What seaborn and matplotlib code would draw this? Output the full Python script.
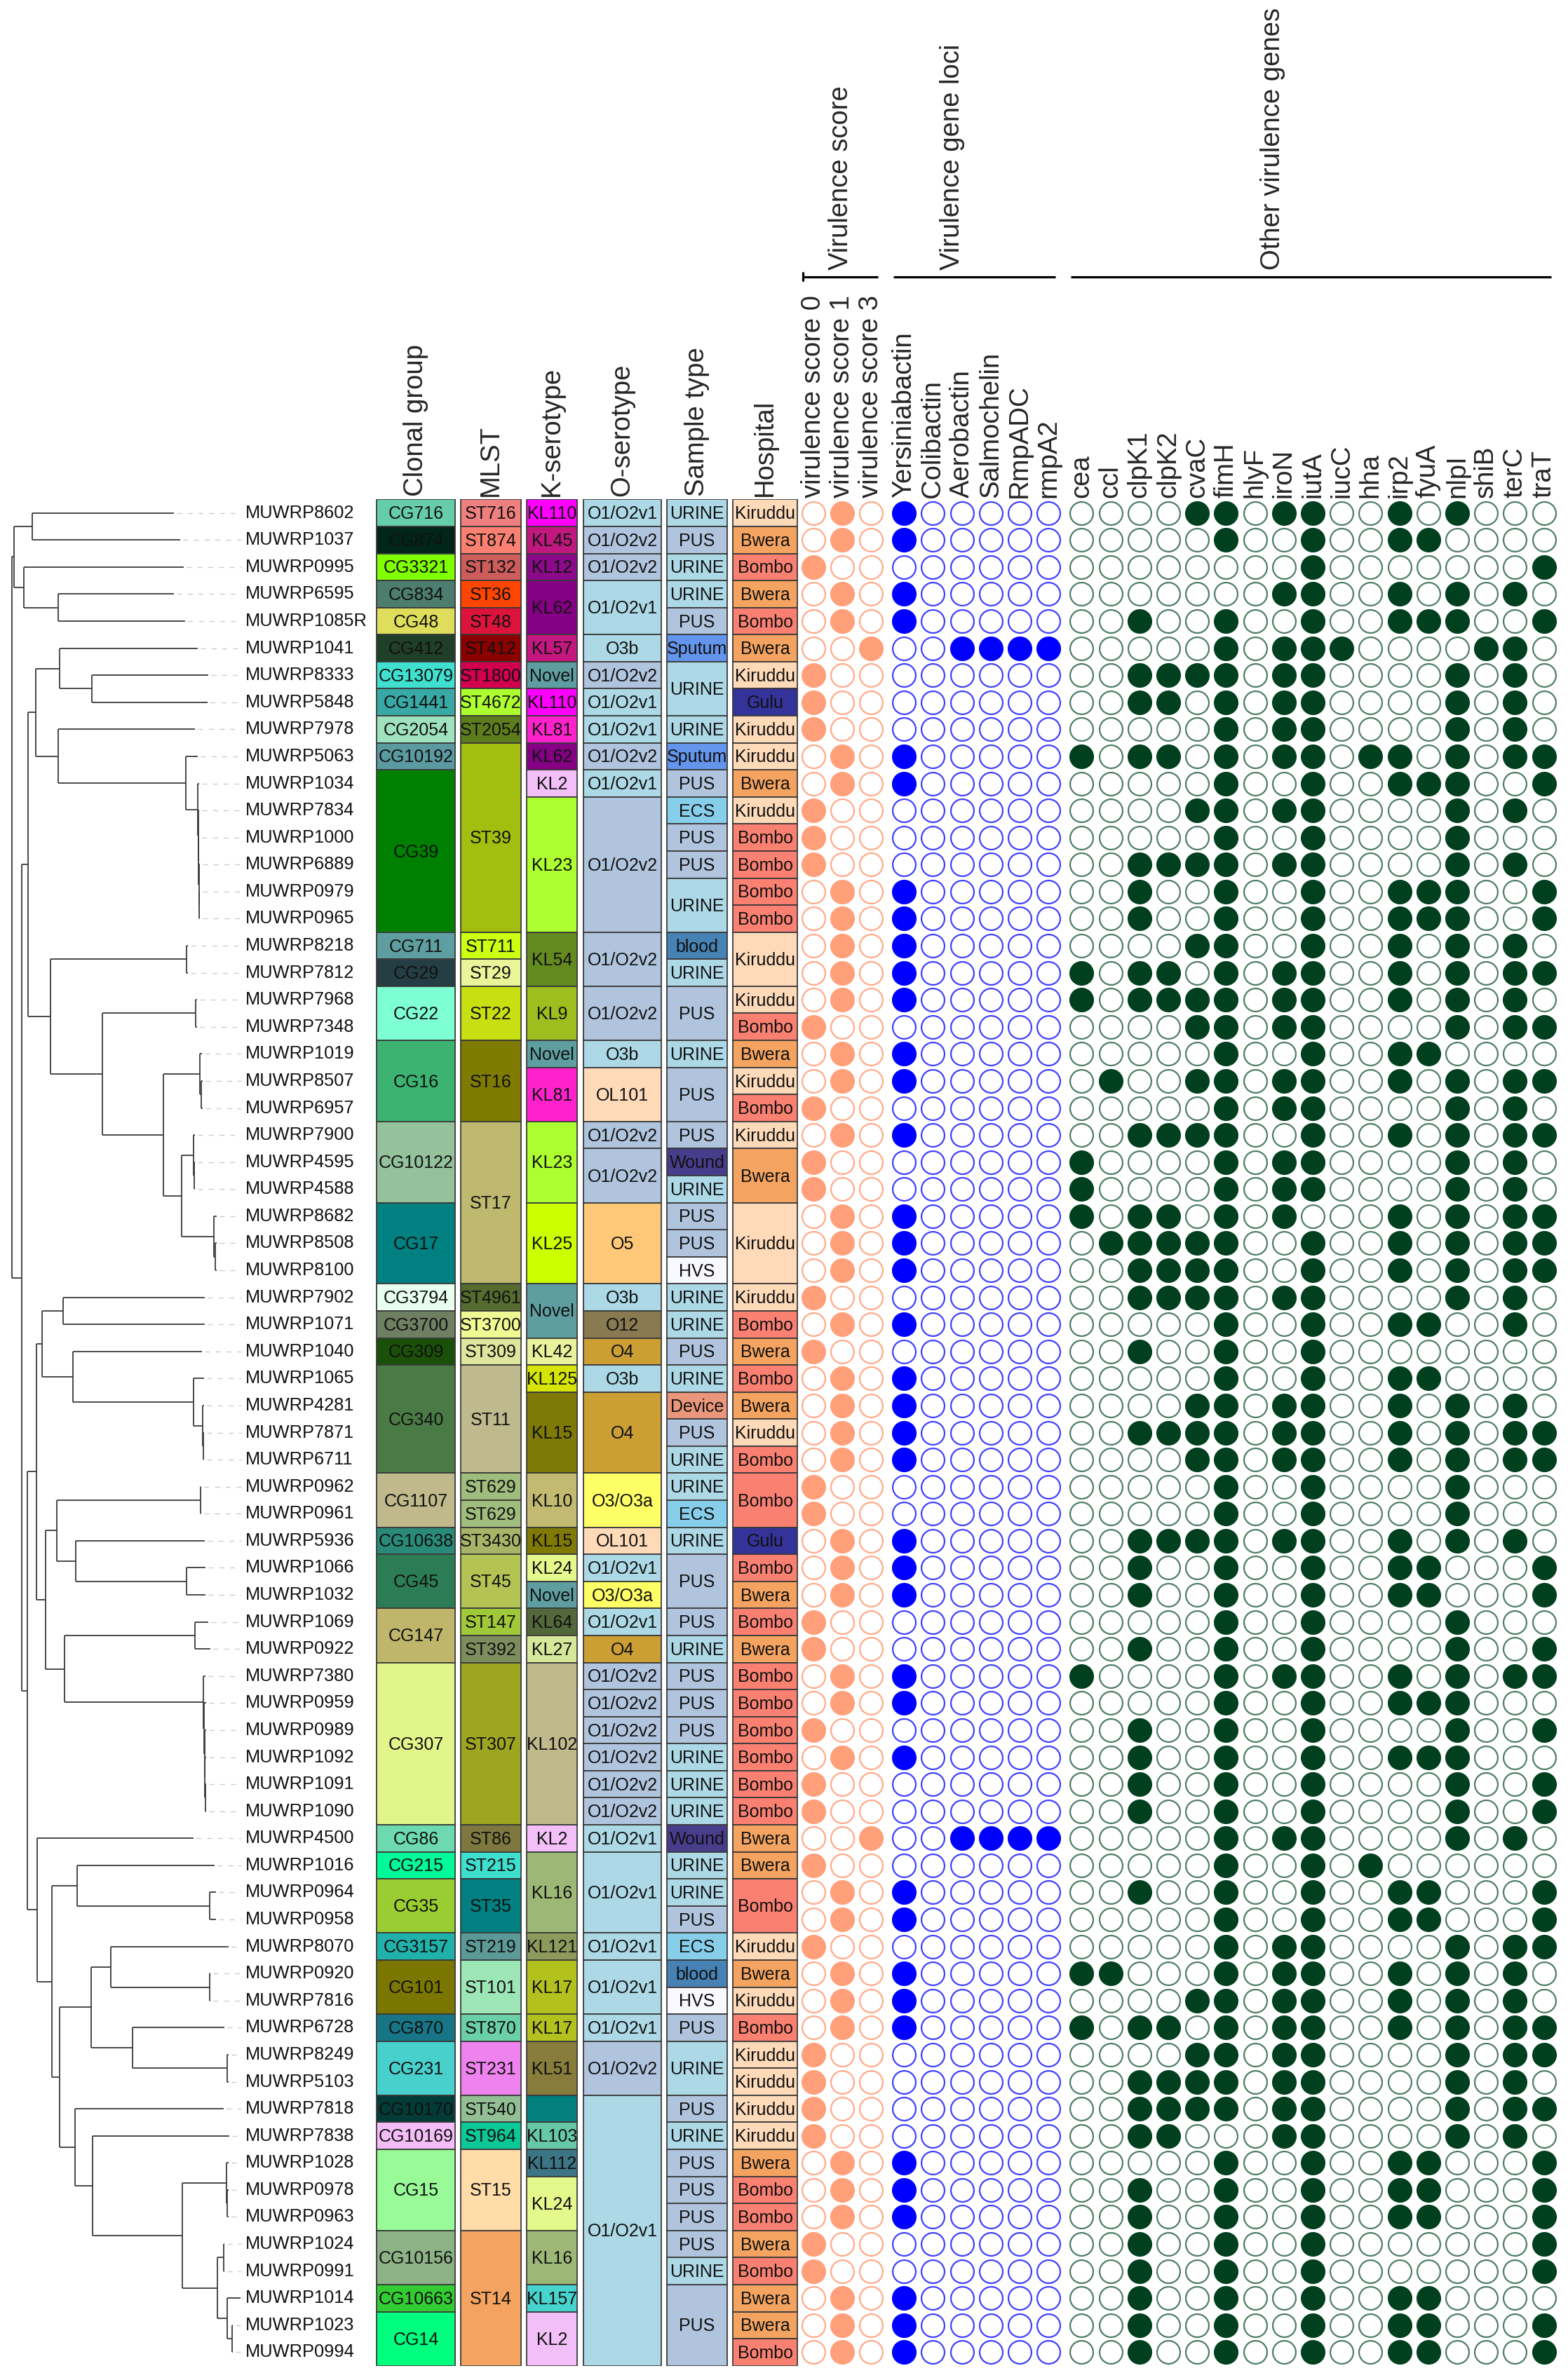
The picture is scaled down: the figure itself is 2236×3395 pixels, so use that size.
import numpy as np
import pandas as pd
import matplotlib.pyplot as plt
import seaborn as sns

# ---------------------------------------------------------------
# data: isolates top -> bottom (tree order)
# ---------------------------------------------------------------
isolates = ['MUWRP8602', 'MUWRP1037', 'MUWRP0995', 'MUWRP6595', 'MUWRP1085R', 'MUWRP1041',
            'MUWRP8333', 'MUWRP5848', 'MUWRP7978', 'MUWRP5063', 'MUWRP1034', 'MUWRP7834',
            'MUWRP1000', 'MUWRP6889', 'MUWRP0979', 'MUWRP0965', 'MUWRP8218', 'MUWRP7812',
            'MUWRP7968', 'MUWRP7348', 'MUWRP1019', 'MUWRP8507', 'MUWRP6957', 'MUWRP7900',
            'MUWRP4595', 'MUWRP4588', 'MUWRP8682', 'MUWRP8508', 'MUWRP8100', 'MUWRP7902',
            'MUWRP1071', 'MUWRP1040', 'MUWRP1065', 'MUWRP4281', 'MUWRP7871', 'MUWRP6711',
            'MUWRP0962', 'MUWRP0961', 'MUWRP5936', 'MUWRP1066', 'MUWRP1032', 'MUWRP1069',
            'MUWRP0922', 'MUWRP7380', 'MUWRP0959', 'MUWRP0989', 'MUWRP1092', 'MUWRP1091',
            'MUWRP1090', 'MUWRP4500', 'MUWRP1016', 'MUWRP0964', 'MUWRP0958', 'MUWRP8070',
            'MUWRP0920', 'MUWRP7816', 'MUWRP6728', 'MUWRP8249', 'MUWRP5103', 'MUWRP7818',
            'MUWRP7838', 'MUWRP1028', 'MUWRP0978', 'MUWRP0963', 'MUWRP1024', 'MUWRP0991',
            'MUWRP1014', 'MUWRP1023', 'MUWRP0994']

# phylogeny (newick, branch lengths in tree units)
tree_newick = (
    "(((MUWRP8602:202.2,MUWRP1037:210.8):25.8,(MUWRP0995:227.3,(MUWRP6595:164.7,MUWRP1085R:180.2):48.9):14.4):3,"
    "((((MUWRP1041:197,(MUWRP8333:166,MUWRP5848:165):46):34,(MUWRP7978:194.7,(MUWRP5063:17.5,(MUWRP1034:1.8,"
    "(MUWRP7834:1.5,(MUWRP1000:1,(MUWRP6889:1,(MUWRP0979:1,MUWRP0965:1):0.5):0.5):0.5):0.8):17.2):181.2):32.3):11.4,"
    "((MUWRP8218:2,MUWRP7812:2):193.7,((MUWRP7968:2,MUWRP7348:2):132.6,((MUWRP1019:3.5,(MUWRP8507:1.6,MUWRP6957:1.6):2.5):52,"
    "((MUWRP7900:2.1,(MUWRP4595:1,MUWRP4588:1):1.1):16.2,(MUWRP8682:4,(MUWRP8508:2,MUWRP8100:2):2):45.7):26.8):86.1):74.1):32.7):8.6,"
    "((((MUWRP7902:202.5,MUWRP1071:202.5):29.2,(MUWRP1040:183.6,(MUWRP1065:15.5,(MUWRP4281:2,(MUWRP7871:1,MUWRP6711:1):1):13.5):171.5):43.7):8.6,"
    "(((MUWRP0962:1,MUWRP0961:1):205,(MUWRP5936:184.2,(MUWRP1066:26.7,MUWRP1032:26.7):158.2):26.8):15.6,"
    "((MUWRP1069:18.7,MUWRP0922:21.3):186.3,(MUWRP7380:2.7,(MUWRP0959:2.5,(MUWRP0989:1.8,(MUWRP1092:1.7,"
    "(MUWRP1091:1,MUWRP1090:1):0.7):0.6):0.7):0.7):198.3):26.6):13.7):12.8,"
    "(MUWRP4500:222.1,((MUWRP1016:196.3,(MUWRP0964:8.5,MUWRP0958:8.5):189.5):35.5,(((MUWRP8070:167.8,"
    "(MUWRP0920:0.6,MUWRP7816:0.6):141.3):28.2,(MUWRP6728:131.3,(MUWRP8249:1.1,MUWRP5103:1.1):135.7):59.2):44.1,"
    "(MUWRP7818:211.8,(MUWRP7838:195,((MUWRP1028:2.8,(MUWRP0978:1.1,MUWRP0963:1.1):1.7):62.7,"
    "((MUWRP1024:1,MUWRP0991:1):8.6,(MUWRP1014:19,(MUWRP1023:0.7,MUWRP0994:0.7):7.6):13.7):50):128):25.2):21.4):11.4):20.6):14.5):7.9):14);"
)

# metadata columns as (label, number of rows the cell spans)
clonal_group = [('CG716', 1), ('CG874', 1), ('CG3321', 1), ('CG834', 1), ('CG48', 1), ('CG412', 1),
                ('CG13079', 1), ('CG1441', 1), ('CG2054', 1), ('CG10192', 1), ('CG39', 6), ('CG711', 1),
                ('CG29', 1), ('CG22', 2), ('CG16', 3), ('CG10122', 3), ('CG17', 3), ('CG3794', 1),
                ('CG3700', 1), ('CG309', 1), ('CG340', 4), ('CG1107', 2), ('CG10638', 1), ('CG45', 2),
                ('CG147', 2), ('CG307', 6), ('CG86', 1), ('CG215', 1), ('CG35', 2), ('CG3157', 1),
                ('CG101', 2), ('CG870', 1), ('CG231', 2), ('CG10170', 1), ('CG10169', 1), ('CG15', 3),
                ('CG10156', 2), ('CG10663', 1), ('CG14', 2)]
mlst = [('ST716', 1), ('ST874', 1), ('ST132', 1), ('ST36', 1), ('ST48', 1), ('ST412', 1), ('ST1800', 1),
        ('ST4672', 1), ('ST2054', 1), ('ST39', 7), ('ST711', 1), ('ST29', 1), ('ST22', 2), ('ST16', 3),
        ('ST17', 6), ('ST4961', 1), ('ST3700', 1), ('ST309', 1), ('ST11', 4), ('ST629', 1), ('ST629', 1),
        ('ST3430', 1), ('ST45', 2), ('ST147', 1), ('ST392', 1), ('ST307', 6), ('ST86', 1), ('ST215', 1),
        ('ST35', 2), ('ST219', 1), ('ST101', 2), ('ST870', 1), ('ST231', 2), ('ST540', 1), ('ST964', 1),
        ('ST15', 3), ('ST14', 5)]
k_type = [('KL110', 1), ('KL45', 1), ('KL12', 1), ('KL62', 2), ('KL57', 1), ('Novel', 1), ('KL110', 1),
          ('KL81', 1), ('KL62', 1), ('KL2', 1), ('KL23', 5), ('KL54', 2), ('KL9', 2), ('Novel', 1),
          ('KL81', 2), ('KL23', 3), ('KL25', 3), ('Novel', 2), ('KL42', 1), ('KL125', 1), ('KL15', 3),
          ('KL10', 2), ('KL15', 1), ('KL24', 1), ('Novel', 1), ('KL64', 1), ('KL27', 1), ('KL102', 6),
          ('KL2', 1), ('KL16', 3), ('KL121', 1), ('KL17', 2), ('KL17', 1), ('KL51', 2), ('', 1),
          ('KL103', 1), ('KL112', 1), ('KL24', 2), ('KL16', 2), ('KL157', 1), ('KL2', 2)]
o_type = ([('O1/O2v1', 1), ('O1/O2v2', 1), ('O1/O2v2', 1), ('O1/O2v1', 2), ('O3b', 1), ('O1/O2v2', 1),
           ('O1/O2v1', 1), ('O1/O2v1', 1), ('O1/O2v2', 1), ('O1/O2v1', 1), ('O1/O2v2', 5), ('O1/O2v2', 2),
           ('O1/O2v2', 2), ('O3b', 1), ('OL101', 2), ('O1/O2v2', 1), ('O1/O2v2', 2), ('O5', 3), ('O3b', 1),
           ('O12', 1), ('O4', 1), ('O3b', 1), ('O4', 3), ('O3/O3a', 2), ('OL101', 1), ('O1/O2v1', 1),
           ('O3/O3a', 1), ('O1/O2v1', 1), ('O4', 1)]
          + [('O1/O2v2', 1)] * 6
          + [('O1/O2v1', 1), ('O1/O2v1', 3), ('O1/O2v1', 1), ('O1/O2v1', 2), ('O1/O2v1', 1),
             ('O1/O2v2', 2), ('O1/O2v1', 10)])
sample_type = [('URINE', 1), ('PUS', 1), ('URINE', 1), ('URINE', 1), ('PUS', 1), ('Sputum', 1), ('URINE', 2),
               ('URINE', 1), ('Sputum', 1), ('PUS', 1), ('ECS', 1), ('PUS', 1), ('PUS', 1), ('URINE', 2),
               ('blood', 1), ('URINE', 1), ('PUS', 2), ('URINE', 1), ('PUS', 2), ('PUS', 1), ('Wound', 1),
               ('URINE', 1), ('PUS', 1), ('PUS', 1), ('HVS', 1), ('URINE', 1), ('URINE', 1), ('PUS', 1),
               ('URINE', 1), ('Device', 1), ('PUS', 1), ('URINE', 1), ('URINE', 1), ('ECS', 1), ('URINE', 1),
               ('PUS', 2), ('PUS', 1), ('URINE', 1), ('PUS', 1), ('PUS', 1), ('PUS', 1), ('URINE', 1),
               ('URINE', 1), ('URINE', 1), ('Wound', 1), ('URINE', 1), ('URINE', 1), ('PUS', 1), ('ECS', 1),
               ('blood', 1), ('HVS', 1), ('PUS', 1), ('URINE', 2), ('PUS', 1), ('URINE', 1), ('PUS', 1),
               ('PUS', 1), ('PUS', 1), ('PUS', 1), ('URINE', 1), ('PUS', 3)]
hospital = ([('Kiruddu', 1), ('Bwera', 1), ('Bombo', 1), ('Bwera', 1), ('Bombo', 1), ('Bwera', 1),
             ('Kiruddu', 1), ('Gulu', 1), ('Kiruddu', 1), ('Kiruddu', 1), ('Bwera', 1), ('Kiruddu', 1),
             ('Bombo', 1), ('Bombo', 1), ('Bombo', 1), ('Bombo', 1), ('Kiruddu', 2), ('Kiruddu', 1),
             ('Bombo', 1), ('Bwera', 1), ('Kiruddu', 1), ('Bombo', 1), ('Kiruddu', 1), ('Bwera', 2),
             ('Kiruddu', 3), ('Kiruddu', 1), ('Bombo', 1), ('Bwera', 1), ('Bombo', 1), ('Bwera', 1),
             ('Kiruddu', 1), ('Bombo', 1), ('Bombo', 2), ('Gulu', 1), ('Bombo', 1), ('Bwera', 1),
             ('Bombo', 1), ('Bwera', 1)]
            + [('Bombo', 1)] * 6
            + [('Bwera', 1), ('Bwera', 1), ('Bombo', 2), ('Kiruddu', 1), ('Bwera', 1), ('Kiruddu', 1),
               ('Bombo', 1), ('Kiruddu', 1), ('Kiruddu', 1), ('Kiruddu', 1), ('Kiruddu', 1), ('Bwera', 1),
               ('Bombo', 1), ('Bombo', 1), ('Bwera', 1), ('Bombo', 1), ('Bwera', 1), ('Bwera', 1),
               ('Bombo', 1)])

meta_headers = ['Clonal group', 'MLST', 'K-serotype', 'O-serotype', 'Sample type', 'Hospital']

# virulence score per isolate (0, 1 or 3)
vscore = [1, 1, 0, 1, 1, 3, 0, 0, 0, 1, 1, 0, 0, 0, 1, 1, 1, 1,
          1, 0, 1, 1, 0, 1, 0, 0, 1, 1, 1, 0, 1, 0, 1, 1, 1, 1,
          0, 0, 1, 1, 1, 0, 0, 1, 1, 0, 1, 0, 0, 3, 0, 1, 1,
          0, 1, 1, 1, 0, 0, 0, 0, 1, 1, 1, 0, 0, 1, 1, 1]
score_labels = ['virulence score 0', 'virulence score 1', 'virulence score 3']
score_values = [0, 1, 3]

# virulence loci: Y=Yersiniabactin C=Colibactin A=Aerobactin S=Salmochelin R=RmpADC r=rmpA2
loci_names = ['Yersiniabactin', 'Colibactin', 'Aerobactin', 'Salmochelin', 'RmpADC', 'rmpA2']
loci_codes = ['Y', 'C', 'A', 'S', 'R', 'r']
loci_present = ['Y', 'Y', '', 'Y', 'Y', 'ASRr', '', '', '', 'Y', 'Y', '', '', '', 'Y', 'Y', 'Y', 'Y',
                'Y', '', 'Y', 'Y', '', 'Y', '', '', 'Y', 'Y', 'Y', '', 'Y', '', 'Y', 'Y', 'Y', 'Y',
                '', '', 'Y', 'Y', 'Y', '', '', 'Y', 'Y', '', 'Y', '', '', 'ASRr', '', 'Y', 'Y',
                '', 'Y', 'Y', 'Y', '', '', '', '', 'Y', 'Y', 'Y', '', '', 'Y', 'Y', 'Y']

other_names = ['cea', 'ccl', 'clpK1', 'clpK2', 'cvaC', 'fimH', 'hlyF', 'iroN', 'iutA', 'iucC',
               'hha', 'irp2', 'fyuA', 'nlpI', 'shiB', 'terC', 'traT']
other_present = [
    'cvaC fimH iroN iutA irp2 nlpI',
    'fimH iutA irp2 fyuA',
    'iutA traT',
    'iroN iutA irp2 nlpI terC',
    'clpK1 fimH iutA irp2 fyuA nlpI traT',
    'fimH iroN iutA iucC shiB terC',
    'clpK1 clpK2 cvaC fimH iroN iutA nlpI terC',
    'clpK1 clpK2 fimH iroN iutA nlpI terC',
    'fimH iroN iutA nlpI terC',
    'cea clpK1 clpK2 fimH iroN iutA hha irp2 nlpI terC traT',
    'fimH iutA irp2 fyuA nlpI traT',
    'cvaC fimH iroN iutA nlpI terC',
    'fimH iutA nlpI',
    'clpK1 clpK2 cvaC fimH iroN iutA nlpI terC',
    'clpK1 fimH iutA irp2 fyuA nlpI traT',
    'clpK1 fimH iutA irp2 fyuA nlpI traT',
    'cvaC fimH iutA irp2 nlpI terC',
    'cea clpK1 clpK2 fimH iroN iutA irp2 nlpI terC traT',
    'cea clpK1 clpK2 cvaC fimH iroN iutA irp2 nlpI terC',
    'cvaC fimH iroN iutA nlpI terC traT',
    'fimH iutA irp2 fyuA',
    'ccl cvaC fimH iroN iutA irp2 nlpI terC traT',
    'fimH iroN iutA nlpI terC',
    'clpK1 clpK2 cvaC fimH iutA irp2 nlpI terC traT',
    'cea fimH iroN iutA nlpI terC',
    'cea fimH iroN iutA nlpI terC',
    'cea clpK1 clpK2 fimH iroN irp2 nlpI terC traT',
    'ccl clpK1 clpK2 cvaC fimH iutA irp2 nlpI terC traT',
    'clpK1 clpK2 cvaC fimH iutA irp2 nlpI terC traT',
    'clpK1 clpK2 cvaC fimH iroN iutA nlpI terC',
    'fimH iutA irp2 fyuA terC',
    'clpK1 fimH iutA',
    'fimH iutA irp2 fyuA',
    'cvaC fimH iroN iutA irp2 nlpI terC',
    'clpK1 clpK2 cvaC fimH iroN iutA irp2 nlpI terC traT',
    'cvaC fimH iroN iutA irp2 nlpI terC traT',
    'fimH iutA nlpI',
    'fimH iutA nlpI',
    'clpK1 clpK2 cvaC fimH iroN iutA irp2 nlpI terC',
    'clpK1 fimH iutA irp2 fyuA traT',
    'clpK1 fimH iutA irp2 fyuA traT',
    'fimH iutA nlpI',
    'clpK1 fimH iutA nlpI traT',
    'cea fimH iroN iutA irp2 nlpI terC traT',
    'fimH iutA irp2 fyuA nlpI',
    'clpK1 fimH iutA nlpI traT',
    'clpK1 fimH iutA irp2 fyuA nlpI',
    'clpK1 fimH iutA nlpI traT',
    'clpK1 fimH iutA nlpI traT',
    'fimH iroN iutA nlpI terC',
    'fimH iutA hha',
    'clpK1 fimH iutA irp2 fyuA traT',
    'fimH iutA irp2 fyuA traT',
    'fimH iroN iutA nlpI terC traT',
    'cea ccl fimH iroN iutA irp2 nlpI terC',
    'cvaC fimH iroN iutA irp2 nlpI terC',
    'cea clpK1 clpK2 fimH iroN iutA irp2 nlpI terC traT',
    'cvaC fimH iroN iutA nlpI terC traT',
    'clpK1 clpK2 cvaC fimH iroN iutA nlpI terC',
    'clpK1 clpK2 cvaC fimH iroN iutA nlpI terC traT',
    'clpK1 clpK2 iroN iutA nlpI terC',
    'fimH iutA irp2 fyuA traT',
    'clpK1 fimH iutA irp2 fyuA traT',
    'clpK1 fimH iutA irp2 fyuA traT',
    'clpK1 fimH iutA traT',
    'clpK1 fimH iutA traT',
    'clpK1 fimH iutA irp2 fyuA',
    'clpK1 fimH iutA irp2 fyuA traT',
    'clpK1 fimH iutA irp2 fyuA traT',
]

# ---------------------------------------------------------------
# colours
# ---------------------------------------------------------------
cg_colors = {'CG716': '#66CDAA', 'CG874': '#00261A', 'CG3321': '#7FFF00', 'CG834': '#4D7D6E',
             'CG48': '#DEDE5C', 'CG412': '#1F3F29', 'CG13079': '#40E0D0', 'CG1441': '#39A9A6',
             'CG2054': '#9FE2BF', 'CG10192': '#5B9AA0', 'CG39': '#008000', 'CG711': '#5F9EA0',
             'CG29': '#253E44', 'CG22': '#7FFFD4', 'CG16': '#3CB371', 'CG10122': '#93C29C',
             'CG17': '#008080', 'CG3794': '#E8FFF0', 'CG3700': '#6F7F62', 'CG309': '#1B5009',
             'CG340': '#4A7A45', 'CG1107': '#BFB98B', 'CG10638': '#2A8A78', 'CG45': '#2C7D55',
             'CG147': '#BFB66B', 'CG307': '#E2F58A', 'CG86': '#6CD9B0', 'CG215': '#00FA9A',
             'CG35': '#9ACD32', 'CG3157': '#20B2AA', 'CG101': '#7B7600', 'CG870': '#187585',
             'CG231': '#48D1CC', 'CG10170': '#033B36', 'CG10169': '#F4BDF7', 'CG15': '#98FB98',
             'CG10156': '#8CB285', 'CG10663': '#32CD32', 'CG14': '#00FF7F'}
st_colors = {'ST716': '#F08080', 'ST874': '#FA8072', 'ST132': '#CD5C5C', 'ST36': '#FF4500',
             'ST48': '#DC143C', 'ST412': '#8B0000', 'ST1800': '#D30050', 'ST4672': '#ADFF2F',
             'ST2054': '#5B7D1C', 'ST39': '#A2BF0F', 'ST711': '#CCFF11', 'ST29': '#EAF59A',
             'ST22': '#C8E012', 'ST16': '#7E7B00', 'ST17': '#BFB86F', 'ST4961': '#556B2F',
             'ST3700': '#F0FA92', 'ST309': '#DDE69C', 'ST11': '#BFBA8E', 'ST629': '#9FBD7C',
             'ST3430': '#A8B468', 'ST45': '#B4C454', 'ST147': '#A0C93A', 'ST392': '#7E8D5E',
             'ST307': '#9EA520', 'ST86': '#7E7840', 'ST215': '#3EDFCF', 'ST35': '#008080',
             'ST219': '#5C9A98', 'ST101': '#9DE6B5', 'ST870': '#6BCFA8', 'ST231': '#EE82EE',
             'ST540': '#93BF95', 'ST964': '#0BC896', 'ST15': '#FFDCA8', 'ST14': '#F4A460'}
kl_colors = {'KL110': '#FF00FF', 'KL45': '#C0187E', 'KL12': '#8A0A8A', 'KL62': '#850085',
             'KL57': '#C41880', 'Novel': '#5F9EA0', 'KL81': '#FF22CC', 'KL2': '#F3BFF8',
             'KL23': '#ADFF2F', 'KL54': '#638A1E', 'KL9': '#9DBE1E', 'KL25': '#CCFF00',
             'KL42': '#E8F29A', 'KL125': '#D5E507', 'KL15': '#7E7A05', 'KL10': '#C2BA70',
             'KL24': '#E5F88B', 'KL64': '#52683A', 'KL27': '#D7E79A', 'KL102': '#C0B98C',
             'KL16': '#9DB876', 'KL121': '#8E9A5C', 'KL17': '#B3C11E', 'KL51': '#877C3B',
             '': '#03807C', 'KL103': '#66C8A6', 'KL112': '#3C7585', 'KL157': '#47D4CE'}
o_colors = {'O1/O2v1': '#ADD8E6', 'O1/O2v2': '#B0C4DE', 'O3b': '#ADD8E6', 'OL101': '#FFDAB9',
            'O5': '#FFC878', 'O12': '#8A7A52', 'O4': '#CC9F35', 'O3/O3a': '#FFFF66'}
sample_colors = {'URINE': '#ADD8E6', 'PUS': '#B0C4DE', 'Sputum': '#6495ED', 'ECS': '#87CEEB',
                 'blood': '#4682B4', 'Wound': '#483D8B', 'HVS': '#F8F8FF', 'Device': '#E9967A'}
hosp_colors = {'Kiruddu': '#FFDAB9', 'Bwera': '#F4A460', 'Bombo': '#FA8072', 'Gulu': '#333399'}

# fill colour / empty-ring colour for the three dot groups
dot_palette = {'score': ('#FFA07A', '#FFAA88'),
               'loci': ('#0000FF', '#4040FF'),
               'other': ('#00401F', '#4F7D66')}

# ---------------------------------------------------------------
# layout (figure pixels, 2236 x 3395)
# ---------------------------------------------------------------
FIG_W, FIG_H = 2236, 3395
ROW_TOP, ROW_BOT = 712.4, 3374.7
meta_x = [(537, 649), (656.5, 742.7), (750.6, 823.4), (831.7, 943.2), (951, 1037), (1044.8, 1137.3)]
LABEL_X = 350
TREE_RIGHT = 350
ROOT_X = 17
DOT_X0, DOT_STEP, GROUP_GAP = 1159.6, 41.2, 6.0

n = len(isolates)
for col in [clonal_group, mlst, k_type, o_type, sample_type, hospital]:
    assert sum(s for _, s in col) == n


def parse_newick(s):
    pos = 0

    def node():
        nonlocal pos
        kids = []
        if s[pos] == '(':
            pos += 1
            kids.append(node())
            while s[pos] == ',':
                pos += 1
                kids.append(node())
            pos += 1
        st = pos
        while s[pos] not in ',():;':
            pos += 1
        name = s[st:pos]
        blen = 0.0
        if s[pos] == ':':
            pos += 1
            st = pos
            while s[pos] not in ',();':
                pos += 1
            blen = float(s[st:pos])
        return {'name': name, 'len': blen, 'kids': kids}

    return node()


def layout_tree(nd, depth, row_of):
    nd['x'] = depth + nd['len']
    if not nd['kids']:
        nd['y'] = row_of[nd['name']]
    else:
        for k in nd['kids']:
            layout_tree(k, nd['x'], row_of)
        ys = [k['y'] for k in nd['kids']]
        nd['y'] = (min(ys) + max(ys)) / 2


def draw_tree(ax, nd, leaves):
    if not nd['kids']:
        leaves.append(nd)
        return
    ys = [k['y'] for k in nd['kids']]
    ax.vlines(nd['x'], min(ys), max(ys), color='#3a3a3a', lw=1.3)
    for k in nd['kids']:
        ax.hlines(k['y'], nd['x'], k['x'], color='#3a3a3a', lw=1.3)
        draw_tree(ax, k, leaves)


# ---------------------------------------------------------------
# long table for the dots
# ---------------------------------------------------------------
dot_cols = []   # (label, group)
dot_cols += [(lab, 'score') for lab in score_labels]
dot_cols += [(lab, 'loci') for lab in loci_names]
dot_cols += [(lab, 'other') for lab in other_names]

col_x = []
x = DOT_X0
prev = None
for lab, grp in dot_cols:
    if prev is not None:
        x += DOT_STEP + (GROUP_GAP if grp != prev else 0)
    col_x.append(x)
    prev = grp

records = []
for i in range(n):
    genes = set(other_present[i].split())
    for j, (lab, grp) in enumerate(dot_cols):
        if grp == 'score':
            on = vscore[i] == score_values[score_labels.index(lab)]
        elif grp == 'loci':
            on = loci_codes[loci_names.index(lab)] in loci_present[i]
        else:
            on = lab in genes
        records.append({'row': i, 'x': col_x[j], 'gene': lab, 'group': grp, 'present': on})
dots = pd.DataFrame(records)

# ---------------------------------------------------------------
# plot
# ---------------------------------------------------------------
sns.set_style('white')
plt.rcParams['font.family'] = ['Liberation Sans', 'DejaVu Sans']

fig = plt.figure(figsize=(FIG_W / 100, FIG_H / 100), dpi=100)
bottom = 1 - ROW_BOT / FIG_H
height = (ROW_BOT - ROW_TOP) / FIG_H

ax_top = fig.add_axes([0, 0, 1, 1])
ax_tree = fig.add_axes([0, bottom, TREE_RIGHT / FIG_W, height])
ax = fig.add_axes([0, bottom, 1, height])
for a in (ax_top, ax_tree, ax):
    a.set_facecolor('none')

# tree
row_of = {name: i for i, name in enumerate(isolates)}
root = parse_newick(tree_newick)
layout_tree(root, 0.0, row_of)
leaves = []
draw_tree(ax_tree, root, leaves)
for lf in leaves:
    ax_tree.hlines(lf['y'], lf['x'] + 4, TREE_RIGHT - ROOT_X - 6, color='#cccccc', lw=1,
                   linestyles=(0, (5, 6)))
ax_tree.set_xlim(-ROOT_X, TREE_RIGHT - ROOT_X)
ax_tree.set_ylim(n - 0.5, -0.5)
ax_tree.axis('off')

# isolate names
for i, name in enumerate(isolates):
    ax.text(LABEL_X, i, name, ha='left', va='center', fontsize=18.3, color='#111111')

# metadata blocks
meta_cols = [(clonal_group, cg_colors), (mlst, st_colors), (k_type, kl_colors),
             (o_type, o_colors), (sample_type, sample_colors), (hospital, hosp_colors)]
for (runs, cmap), (x0, x1) in zip(meta_cols, meta_x):
    start = 0
    for lab, span in runs:
        yc = start + (span - 1) / 2
        ax.barh(yc, x1 - x0, left=x0, height=span, color=cmap[lab], edgecolor='#3a3a3a',
                linewidth=1.3, zorder=2)
        if lab:
            ax.text((x0 + x1) / 2, yc + 0.04, lab, ha='center', va='center', fontsize=18,
                    color='#111111', zorder=3)
        start += span

# dots
for grp, (fill, ring) in dot_palette.items():
    sub = dots[dots['group'] == grp]
    sns.scatterplot(data=sub[sub['present']], x='x', y='row', color=fill, edgecolor=fill,
                    s=560, linewidth=1.6, legend=False, ax=ax, zorder=3)
    sns.scatterplot(data=sub[~sub['present']], x='x', y='row', color='white', edgecolor=ring,
                    s=560, linewidth=1.6, legend=False, ax=ax, zorder=3)

ax.set_xlim(0, FIG_W)
ax.set_ylim(n - 0.5, -0.5)
ax.axis('off')

# headers (pixel coordinates)
ax_top.set_xlim(0, FIG_W)
ax_top.set_ylim(FIG_H, 0)
ax_top.axis('off')
HEAD_FS = 27.5
for lab, (x0, x1) in zip(meta_headers, meta_x):
    ax_top.text((x0 + x1) / 2, 708, lab, rotation=90, ha='center', va='bottom', fontsize=HEAD_FS)
for (lab, grp), xc in zip(dot_cols, col_x):
    ax_top.text(xc, 710, lab, rotation=90, ha='center', va='bottom', fontsize=HEAD_FS)

group_titles = [('score', 'Virulence score', 1199), ('loci', 'Virulence gene loci', 1358),
                ('other', 'Other virulence genes', 1815)]
for grp, title, tx in group_titles:
    xs = [xc for (lab, g), xc in zip(dot_cols, col_x) if g == grp]
    ax_top.plot([xs[0] - 15, xs[-1] + 10], [395, 395], color='black', lw=2.3,
                solid_capstyle='butt')
    ax_top.text(tx, 385, title, rotation=90, ha='center', va='bottom', fontsize=HEAD_FS)
ax_top.plot([col_x[0] - 15, col_x[0] - 15], [389, 400], color='black', lw=2.3)

fig.savefig('out.png', dpi=100)
